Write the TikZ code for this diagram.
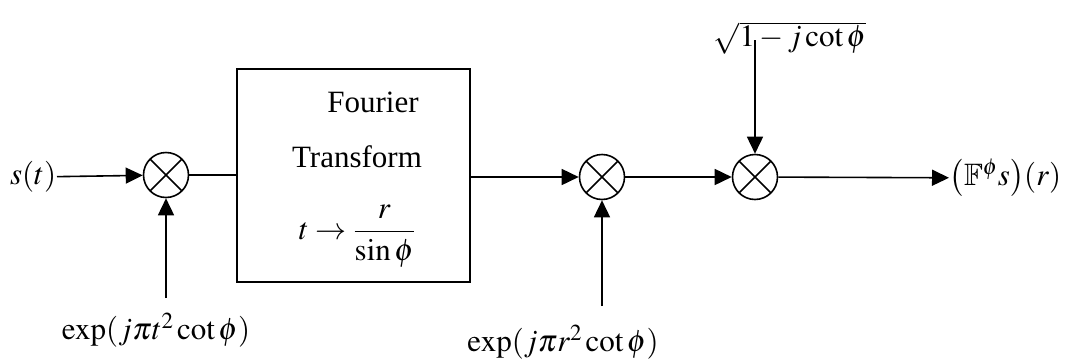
\documentclass[tikz,border=0pt]{standalone}
\usepackage{mathptmx}
\usepackage{amsmath}
\usepackage{amssymb}
\usepackage{fontspec}
\setmainfont{Liberation Serif}
\usetikzlibrary{arrows.meta}
\begin{document}
\begin{tikzpicture}[x=1pt,y=-1pt,
  font=\fontsize{31}{37}\selectfont,
  line width=1.6pt,
  >={Triangle[length=17pt,width=16pt]},
  mult/.style={circle,draw,minimum size=45pt,inner sep=0pt,
    path picture={\draw (path picture bounding box.north west)--(path picture bounding box.south east)
      (path picture bounding box.north east)--(path picture bounding box.south west);}},
  lbl/.style={inner sep=0pt}]
\useasboundingbox (0,0) rectangle (1068,362);
\node[lbl,anchor=east] (s) at (57,177) {$s(t)$};
\node[mult] (m1) at (166,175) {};
\node[draw, minimum width=233pt, minimum height=213pt, inner sep=0pt] (ft) at (353.5,175.5) {};
\node[lbl] (f1) at (373,102) {Fourier};
\node[lbl] (f2) at (357,157) {Transform};
\node[lbl] (f3) at (357,236) {$t\to\dfrac{r}{\sin\phi}$};
\node[mult] (m2) at (602,177) {};
\node[mult] (m3) at (755,177) {};
\node[lbl] (e1) at (156,330) {$\exp(j\pi t^2\cot\phi)$};
\node[lbl] (e2) at (563,342) {$\exp(j\pi r^2\cot\phi)$};
\coordinate (e1t) at (166,298);
\coordinate (e2t) at (602,306);
\node[lbl] (sq) at (790,38) {$\sqrt{1-j\cot\phi}$};
\coordinate (sqb) at (755,40);
\node[lbl,anchor=west] (out) at (949,178) {$\bigl(\mathbb{F}^{\phi}s\bigr)(r)$};
\draw[->] (s) -- (m1);
\draw (m1.east) -- (m1 -| ft.west);
\draw[->] (e1t) -- (m1);
\draw[->] (ft.east |- m2) -- (m2);
\draw[->] (e2t) -- (m2);
\draw[->] (m2) -- (m3);
\draw[->] (sqb) -- (m3);
\draw[->] (m3) -- (out);
\end{tikzpicture}
\end{document}
